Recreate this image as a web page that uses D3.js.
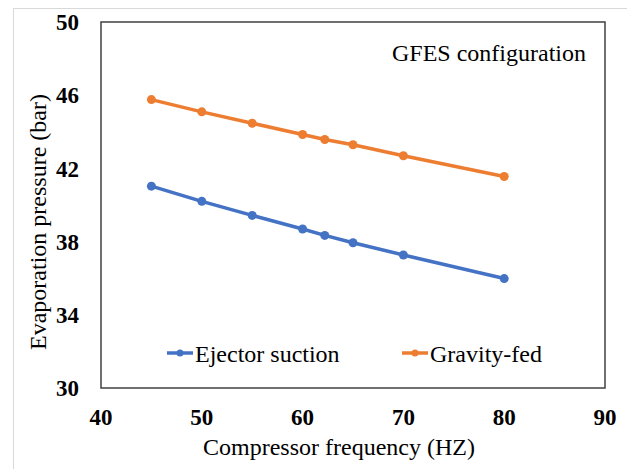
<!DOCTYPE html>
<html>
<head>
<meta charset="utf-8">
<script src="https://cdn.jsdelivr.net/npm/d3@7"></script>
<style>
  body { margin: 0; background: #fff; }
  svg { display: block; font-family: "Liberation Serif", "Times New Roman", serif; }
</style>
</head>
<body>
<svg id="chart" width="627" height="469"></svg>
<script>
const frequency = [45, 50, 55, 60, 62.2, 65, 70, 80];
const ejectorSuction = [41.03, 40.2, 39.43, 38.69, 38.34, 37.94, 37.27, 35.98];
const gravityFed = [45.76, 45.09, 44.47, 43.85, 43.58, 43.29, 42.69, 41.56];
const xTicks = [40, 50, 60, 70, 80, 90];
const yTicks = [30, 34, 38, 42, 46, 50];

const series = [
    { name: 'Ejector suction', values: ejectorSuction, color: '#4472C4' },
    { name: 'Gravity-fed', values: gravityFed, color: '#ED7D31' }
];

const margin = { top: 22, right: 22, bottom: 81, left: 101 };
const width = 627 - margin.left - margin.right;
const height = 469 - margin.top - margin.bottom;

const svg = d3.select('#chart');

// light outer frame
svg.append('rect')
    .attr('x', 13.5).attr('y', 8.5)
    .attr('width', 627).attr('height', 480)
    .attr('fill', 'none')
    .attr('stroke', '#d9d9d9')
    .attr('stroke-width', 1);

const chart = svg.append('g')
    .attr('transform', `translate(${margin.left},${margin.top})`);

const xScale = d3.scaleLinear().domain([40, 90]).range([0, width]);
const yScale = d3.scaleLinear().domain([30, 50]).range([height, 0]);

// tick labels
chart.append('g')
    .selectAll('text')
    .data(xTicks)
    .join('text')
    .attr('x', d => xScale(d))
    .attr('y', height + 37)
    .attr('text-anchor', 'middle')
    .style('font-size', '23px')
    .style('font-weight', 'bold')
    .text(d => d);

chart.append('g')
    .selectAll('text')
    .data(yTicks)
    .join('text')
    .attr('x', -22)
    .attr('y', d => yScale(d))
    .attr('dy', '0.36em')
    .attr('text-anchor', 'end')
    .style('font-size', '23px')
    .style('font-weight', 'bold')
    .text(d => d);

// plot border
chart.append('rect')
    .attr('width', width)
    .attr('height', height)
    .attr('fill', 'none')
    .attr('stroke', '#404040')
    .attr('stroke-width', 1.5);

const line = d3.line()
    .x((d, i) => xScale(frequency[i]))
    .y(d => yScale(d));

series.forEach(s => {
    chart.append('path')
        .datum(s.values)
        .attr('fill', 'none')
        .attr('stroke', s.color)
        .attr('stroke-width', 3.5)
        .attr('d', line);

    chart.append('g')
        .selectAll('circle')
        .data(s.values)
        .join('circle')
        .attr('cx', (d, i) => xScale(frequency[i]))
        .attr('cy', d => yScale(d))
        .attr('r', 4.5)
        .attr('fill', s.color);
});

// axis titles
chart.append('text')
    .attr('x', width / 2 - 14)
    .attr('y', height + 67)
    .attr('text-anchor', 'middle')
    .style('font-size', '24px')
    .text('Compressor frequency (HZ)');

chart.append('text')
    .attr('transform', 'rotate(-90)')
    .attr('x', -(yScale(40) + 17))
    .attr('y', -55)
    .attr('text-anchor', 'middle')
    .style('font-size', '24px')
    .text('Evaporation pressure (bar)');

// annotation
chart.append('text')
    .attr('x', width - 19)
    .attr('y', 39)
    .attr('text-anchor', 'end')
    .style('font-size', '24px')
    .text('GFES configuration');

// legend
const legendX = [66, 301];
const legend = chart.append('g')
    .selectAll('g')
    .data(series)
    .join('g')
    .attr('transform', (d, i) => `translate(${legendX[i]},${331})`);

legend.append('line')
    .attr('x1', 0).attr('x2', 26)
    .attr('stroke', d => d.color)
    .attr('stroke-width', 3.5);

legend.append('circle')
    .attr('cx', 13)
    .attr('r', 3.5)
    .attr('fill', d => d.color);

legend.append('text')
    .attr('x', 28)
    .attr('y', 9)
    .style('font-size', '24px')
    .text(d => d.name);
</script>
</body>
</html>
